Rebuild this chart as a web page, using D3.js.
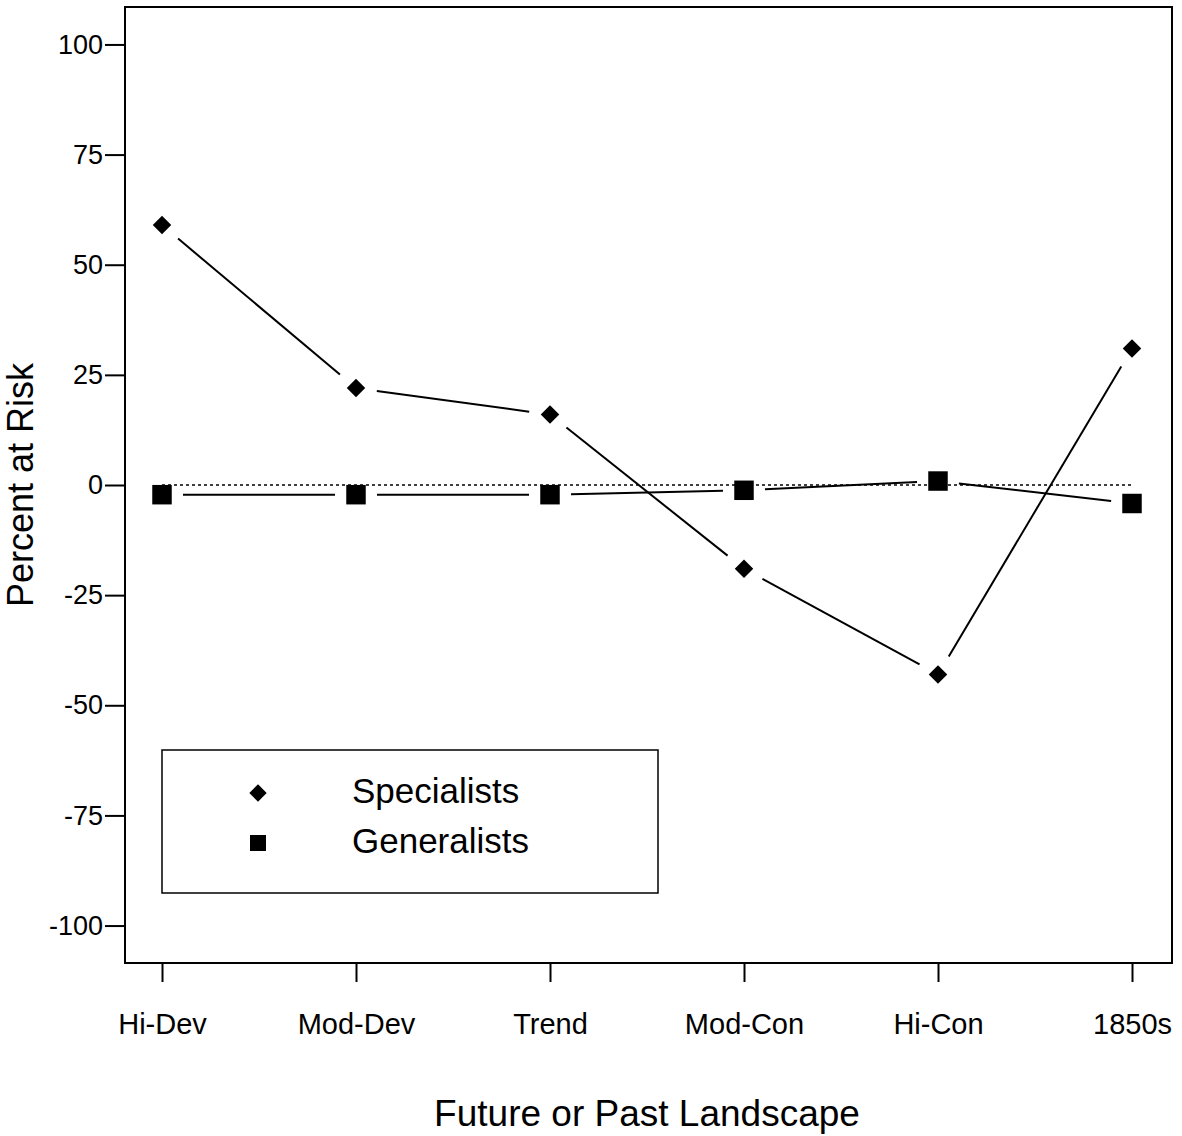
<!DOCTYPE html>
<html>
<head>
<meta charset="utf-8">
<script src="https://cdn.jsdelivr.net/npm/d3@7"></script>
<style>
  body { margin: 0; background: #fff; }
  svg { display: block; font-family: "Liberation Sans", Arial, Helvetica, sans-serif; }
</style>
</head>
<body>
<div id="chart"></div>
<script>
// values
const categories = ["Hi-Dev", "Mod-Dev", "Trend", "Mod-Con", "Hi-Con", "1850s"]
const specialists = [59, 22, 16, -19, -43, 31]
const generalists = [-2.2, -2.2, -2.2, -1.2, 0.9, -4.2]
const yTicks = [100, 75, 50, 25, 0, -25, -50, -75, -100]
const seriesNames = ["Specialists", "Generalists"]

const WIDTH = 1182
const HEIGHT = 1136
const plot = { left: 125, right: 1172, top: 7, bottom: 963 }
const GAP = 21 // lines stop short of the markers

const svg = d3.select("#chart")
  .append("svg")
  .attr("width", WIDTH)
  .attr("height", HEIGHT)

const x = d3.scalePoint()
  .domain(categories)
  .range([162, 1132])

const y = d3.scaleLinear()
  .domain([-108.5, 108.5])
  .range([plot.bottom, plot.top])

// frame
svg.append("rect")
  .attr("x", plot.left)
  .attr("y", plot.top)
  .attr("width", plot.right - plot.left)
  .attr("height", plot.bottom - plot.top)
  .attr("fill", "none")
  .attr("stroke", "#000")
  .attr("stroke-width", 2)

// y axis (plain hyphen for negatives, like the original)
const yAxis = svg.append("g")
  .attr("transform", `translate(${plot.left},0)`)
  .call(d3.axisLeft(y).tickValues(yTicks).tickFormat(d => String(d)).tickSize(20).tickPadding(2))
yAxis.select(".domain").remove()
yAxis.selectAll(".tick line").attr("stroke-width", 2)
yAxis.selectAll(".tick text")
  .attr("font-size", 27)
  .attr("fill", "#000")

// x axis
const xAxis = svg.append("g")
  .attr("transform", `translate(0,${plot.bottom})`)
  .call(d3.axisBottom(x).tickSize(19).tickPadding(31))
xAxis.select(".domain").remove()
xAxis.selectAll(".tick line").attr("stroke-width", 2)
xAxis.selectAll(".tick text")
  .attr("font-size", 29)
  .attr("fill", "#000")
svg.selectAll("g").attr("font-family", null).attr("font-size", null)

// dotted zero line
svg.append("line")
  .attr("x1", x(categories[0]))
  .attr("x2", x(categories[categories.length - 1]))
  .attr("y1", y(0))
  .attr("y2", y(0))
  .attr("stroke", "#000")
  .attr("stroke-width", 1.5)
  .attr("stroke-dasharray", "3,3")

// connecting lines, trimmed near each marker
function drawSegments(values) {
  const pts = values.map((v, i) => [x(categories[i]), y(v)])
  const segs = d3.pairs(pts).map(([a, b]) => {
    const dx = b[0] - a[0], dy = b[1] - a[1]
    const len = Math.hypot(dx, dy)
    const ux = dx / len, uy = dy / len
    return [a[0] + ux * GAP, a[1] + uy * GAP, b[0] - ux * GAP, b[1] - uy * GAP]
  })
  svg.append("g").selectAll("line")
    .data(segs)
    .enter().append("line")
    .attr("x1", d => d[0])
    .attr("y1", d => d[1])
    .attr("x2", d => d[2])
    .attr("y2", d => d[3])
    .attr("stroke", "#000")
    .attr("stroke-width", 2)
}
drawSegments(specialists)
drawSegments(generalists)

const diamond = d3.symbol(d3.symbolSquare, 170)
const square = d3.symbol(d3.symbolSquare, 380)

svg.append("g").selectAll("path")
  .data(specialists)
  .enter().append("path")
  .attr("d", diamond)
  .attr("transform", (d, i) => `translate(${x(categories[i])},${y(d)}) rotate(45)`)
  .attr("fill", "#000")

svg.append("g").selectAll("path")
  .data(generalists)
  .enter().append("path")
  .attr("d", square)
  .attr("transform", (d, i) => `translate(${x(categories[i])},${y(d)})`)
  .attr("fill", "#000")

// legend
const legend = svg.append("g")
legend.append("rect")
  .attr("x", 162)
  .attr("y", 750)
  .attr("width", 496)
  .attr("height", 143)
  .attr("fill", "#fff")
  .attr("stroke", "#000")
  .attr("stroke-width", 1.5)

const legendSymbols = [d3.symbol(d3.symbolSquare, 150), d3.symbol(d3.symbolSquare, 256)]
seriesNames.forEach((name, i) => {
  const cy = 793 + i * 50
  legend.append("path")
    .attr("d", legendSymbols[i])
    .attr("transform", `translate(258,${cy})` + (i === 0 ? " rotate(45)" : ""))
    .attr("fill", "#000")
  legend.append("text")
    .attr("x", 352)
    .attr("y", cy + 10)
    .attr("font-size", 35)
    .text(name)
})

// axis titles
svg.append("text")
  .attr("x", 647)
  .attr("y", 1126)
  .attr("text-anchor", "middle")
  .attr("font-size", 37)
  .text("Future or Past Landscape")

svg.append("text")
  .attr("transform", `translate(33,${y(0)}) rotate(-90)`)
  .attr("text-anchor", "middle")
  .attr("font-size", 36)
  .text("Percent at Risk")
</script>
</body>
</html>
